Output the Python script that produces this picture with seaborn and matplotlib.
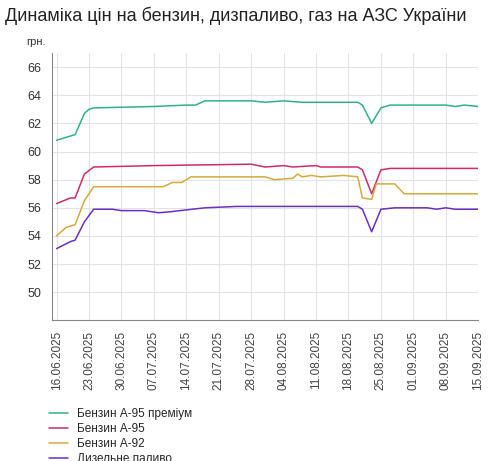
import numpy as np
import pandas as pd
import matplotlib
matplotlib.use('Agg')
import matplotlib.pyplot as plt
import matplotlib.dates as mdates
import seaborn as sns

# prices per fuel: (date, value)
premium_dates = ['2025-06-16','2025-06-19','2025-06-20','2025-06-22','2025-06-23','2025-06-24','2025-07-07','2025-07-14','2025-07-16','2025-07-18','2025-07-28','2025-07-31','2025-08-04','2025-08-08','2025-08-20','2025-08-21','2025-08-23','2025-08-25','2025-08-27','2025-09-08','2025-09-10','2025-09-12','2025-09-15']
premium_vals = [60.8,61.1,61.2,62.7,63.0,63.1,63.2,63.3,63.3,63.6,63.6,63.5,63.6,63.5,63.5,63.3,62.0,63.1,63.3,63.3,63.2,63.3,63.2]
a95_dates = ['2025-06-16','2025-06-19','2025-06-20','2025-06-22','2025-06-24','2025-07-07','2025-07-28','2025-07-31','2025-08-04','2025-08-06','2025-08-11','2025-08-12','2025-08-20','2025-08-21','2025-08-23','2025-08-25','2025-08-27','2025-09-08','2025-09-15']
a95_vals = [56.3,56.7,56.7,58.4,58.9,59.0,59.1,58.9,59.0,58.9,59.0,58.9,58.9,58.7,57.0,58.7,58.8,58.8,58.8]
a92_dates = ['2025-06-16','2025-06-18','2025-06-20','2025-06-22','2025-06-24','2025-07-09','2025-07-11','2025-07-13','2025-07-15','2025-07-31','2025-08-02','2025-08-06','2025-08-07','2025-08-08','2025-08-10','2025-08-12','2025-08-17','2025-08-20','2025-08-21','2025-08-23','2025-08-24','2025-08-28','2025-08-30','2025-09-15']
a92_vals = [54.0,54.6,54.8,56.5,57.5,57.5,57.8,57.8,58.2,58.2,58.0,58.1,58.4,58.2,58.3,58.2,58.3,58.2,56.7,56.6,57.7,57.7,57.0,57.0]
diesel_dates = ['2025-06-16','2025-06-19','2025-06-20','2025-06-22','2025-06-24','2025-06-28','2025-06-30','2025-07-05','2025-07-08','2025-07-10','2025-07-14','2025-07-18','2025-07-25','2025-08-20','2025-08-21','2025-08-23','2025-08-25','2025-08-28','2025-09-04','2025-09-06','2025-09-08','2025-09-10','2025-09-15']
diesel_vals = [53.1,53.6,53.7,55.0,55.9,55.9,55.8,55.8,55.65,55.7,55.85,56.0,56.1,56.1,55.9,54.3,55.9,56.0,56.0,55.9,56.0,55.9,55.9]

series = [
    ('Бензин А-95 преміум', premium_dates, premium_vals, '#2db38c'),
    ('Бензин А-95', a95_dates, a95_vals, '#d12a6c'),
    ('Бензин А-92', a92_dates, a92_vals, '#d6aa3c'),
    ('Дизельне паливо', diesel_dates, diesel_vals, '#6b2fc2'),
]
frames = []
for name, d, v, c in series:
    frames.append(pd.DataFrame({'date': pd.to_datetime(d), 'price': v, 'fuel': name}))
df = pd.concat(frames)

sns.set_style('white')
plt.rcParams['font.family'] = ['Liberation Sans', 'DejaVu Sans']

fig = plt.figure(figsize=(4.9, 4.61), dpi=100)
ax = fig.add_axes([0.106, 0.305, 0.87, 0.58])
sns.lineplot(data=df, x='date', y='price', hue='fuel',
             palette={s[0]: s[3] for s in series}, linewidth=1.1, ax=ax, legend=False)

ticks = pd.date_range('2025-06-16', '2025-09-15', freq='7D')
ax.set_xticks(ticks)
ax.xaxis.set_major_formatter(mdates.DateFormatter('%d.%m.%Y'))
ax.tick_params(axis='x', rotation=90, labelsize=8.5, colors='#444444', length=4)
ax.tick_params(axis='y', labelsize=9, colors='#333333', length=4)
ax.set_xlim(pd.Timestamp('2025-06-15'), pd.Timestamp('2025-09-15'))
ax.set_ylim(48, 67)
ax.set_yticks(np.arange(50, 67, 2))
ax.grid(True, color='#e3e3e3', linewidth=0.8)
for s in ['top', 'right']:
    ax.spines[s].set_visible(False)
for s in ['left', 'bottom']:
    ax.spines[s].set_color('#888888')
ax.set_xlabel('')
ax.set_ylabel('')
ax.text(-0.06, 1.03, 'грн.', transform=ax.transAxes, fontsize=8, color='#333333')

fig.text(0.01, 0.955, 'Динаміка цін на бензин, дизпаливо, газ на АЗС України', fontsize=13, color='#222222')

handles = [plt.Line2D([], [], color=s[3], linewidth=1.1) for s in series]
fig.legend(handles, [s[0] for s in series], loc='upper left', bbox_to_anchor=(0.09, 0.125),
           frameon=False, fontsize=8.5, labelspacing=0.25, handlelength=1.6, borderaxespad=0)

fig.savefig('out.png', dpi=100)
